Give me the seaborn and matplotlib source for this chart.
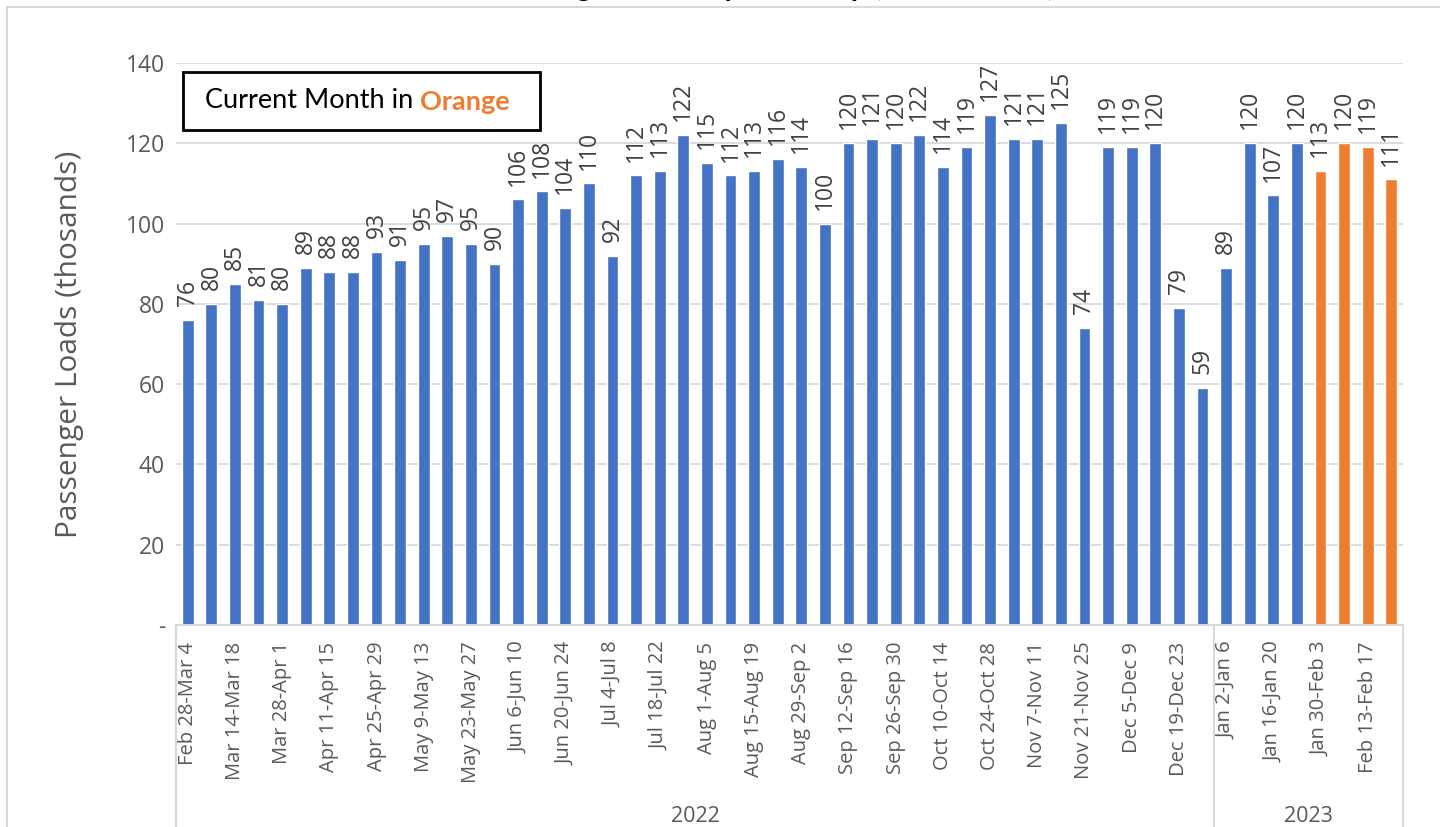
import numpy as np
import pandas as pd
import matplotlib
matplotlib.use("Agg")
import matplotlib.pyplot as plt
import seaborn as sns
from matplotlib.patches import Rectangle
from matplotlib.lines import Line2D
import matplotlib.ticker as ticker

weeks_2022 = ['Feb 28-Mar 4', 'Mar 7-Mar 11', 'Mar 14-Mar 18', 'Mar 21-Mar 25', 'Mar 28-Apr 1',
              'Apr 4-Apr 8', 'Apr 11-Apr 15', 'Apr 18-Apr 22', 'Apr 25-Apr 29', 'May 2-May 6',
              'May 9-May 13', 'May 16-May 20', 'May 23-May 27', 'May 30-Jun 3', 'Jun 6-Jun 10',
              'Jun 13-Jun 17', 'Jun 20-Jun 24', 'Jun 27-Jul 1', 'Jul 4-Jul 8', 'Jul 11-Jul 15',
              'Jul 18-Jul 22', 'Jul 25-Jul 29', 'Aug 1-Aug 5', 'Aug 8-Aug 12', 'Aug 15-Aug 19',
              'Aug 22-Aug 26', 'Aug 29-Sep 2', 'Sep 5-Sep 9', 'Sep 12-Sep 16', 'Sep 19-Sep 23',
              'Sep 26-Sep 30', 'Oct 3-Oct 7', 'Oct 10-Oct 14', 'Oct 17-Oct 21', 'Oct 24-Oct 28',
              'Oct 31-Nov 4', 'Nov 7-Nov 11', 'Nov 14-Nov 18', 'Nov 21-Nov 25', 'Nov 28-Dec 2',
              'Dec 5-Dec 9', 'Dec 12-Dec 16', 'Dec 19-Dec 23', 'Dec 26-Dec 30']
weeks_2023 = ['Jan 2-Jan 6', 'Jan 9-Jan 13', 'Jan 16-Jan 20', 'Jan 23-Jan 27',
              'Jan 30-Feb 3', 'Feb 6-Feb 10', 'Feb 13-Feb 17', 'Feb 20-Feb 24']

loads_2022 = [76, 80, 85, 81, 80, 89, 88, 88, 93, 91, 95, 97, 95, 90, 106, 108, 104, 110, 92, 112,
              113, 122, 115, 112, 113, 116, 114, 100, 120, 121, 120, 122, 114, 119, 127, 121, 121,
              125, 74, 119, 119, 120, 79, 59]
loads_2023 = [89, 120, 107, 120, 113, 120, 119, 111]

# last four weeks = current month
current_weeks = ['Jan 30-Feb 3', 'Feb 6-Feb 10', 'Feb 13-Feb 17', 'Feb 20-Feb 24']

years = ['2022', '2023']
title = "Total Average Weekday Ridership (in thousands)"

weeks = weeks_2022 + weeks_2023
df = pd.DataFrame({'week': weeks, 'loads': loads_2022 + loads_2023})
df['period'] = np.where(df['week'].isin(current_weeks), 'current', 'past')

sns.set_theme(style='white')
plt.rcParams['font.family'] = ['Open Sans', 'DejaVu Sans']

fig = plt.figure(figsize=(14.4, 8.27), dpi=100)
ax = fig.add_axes([176 / 1440, 1 - 625 / 827, (1403 - 176) / 1440, (625 - 63) / 827])

sns.barplot(data=df, x='week', y='loads', hue='period', order=weeks,
            palette={'past': '#4472C4', 'current': '#ED7D31'}, dodge=False, width=0.5,
            saturation=1, legend=False, ax=ax)

for c in ax.containers:
    ax.bar_label(c, fmt='%.0f', rotation=90, padding=10, fontsize=16.5, color='#404040')

ax.set_ylim(0, 140)
ax.set_xlim(-0.5, len(weeks) - 0.5)
ax.yaxis.set_major_locator(ticker.MultipleLocator(20))
ax.yaxis.set_major_formatter(ticker.FuncFormatter(lambda v, p: '-' if v == 0 else f'{v:.0f}'))
ax.yaxis.grid(True, color='#d9d9d9', lw=1.3)
ax.set_axisbelow(True)
for s in ['top', 'right', 'left']:
    ax.spines[s].set_visible(False)
ax.spines['bottom'].set_color('#d9d9d9')
ax.spines['bottom'].set_linewidth(1.5)

ax.set_xticks(range(len(weeks)))
ax.set_xticklabels([w if i % 2 == 0 else '' for i, w in enumerate(weeks)],
                   rotation=90, fontsize=14.5, color='#595959')
ax.tick_params(axis='x', length=0, pad=12)
ax.tick_params(axis='y', length=0, pad=8, labelsize=16.5, labelcolor='#595959')
ax.set_xlabel('')
ax.set_ylabel('Passenger Loads (thosands)', fontsize=21.5, color='#595959', labelpad=30)

# two-level category box
trans = ax.get_xaxis_transform()
n22 = len(weeks_2022)
for xb in [-0.5, n22 - 0.5, len(weeks) - 0.5]:
    ax.add_line(Line2D([xb, xb], [0, -0.5], transform=trans, color='#d9d9d9', lw=1.5, clip_on=False))
ax.text((n22 - 1) / 2, -0.34, years[0], transform=trans, ha='center', va='center',
        fontsize=15.5, color='#595959')
ax.text(n22 + (len(weeks_2023) - 1) / 2, -0.34, years[1], transform=trans, ha='center',
        va='center', fontsize=15.5, color='#595959')

# note box
fig.add_artist(Rectangle((183 / 1440, 1 - 130 / 827), (540 - 183) / 1440, (130 - 72) / 827,
                         transform=fig.transFigure, fill=False, edgecolor='black', lw=2))
t1 = fig.text(205 / 1440, 1 - 101 / 827, 'Current Month in ', ha='left', va='center',
              fontsize=19.5, family=['Lato', 'DejaVu Sans'], color='black')
ax.annotate('Orange', xy=(1, 0), xycoords=t1, va='bottom', ha='left', fontsize=19.5,
            family=['Lato', 'DejaVu Sans'], fontweight='bold', color='#ED7D31')

# outer chart border and title (mostly above the top edge, as in the source)
fig.add_artist(Rectangle((7 / 1440, -0.1), 1.2, 1.1 - 7 / 827, transform=fig.transFigure,
                         fill=False, edgecolor='#d9d9d9', lw=1.5))
fig.text(740 / 1440, 1 + 4 / 827, title, ha='center', va='baseline', fontsize=21,
         fontweight='bold', family=['Lato', 'DejaVu Sans'], color='black')

fig.savefig('out.png', dpi=100)
